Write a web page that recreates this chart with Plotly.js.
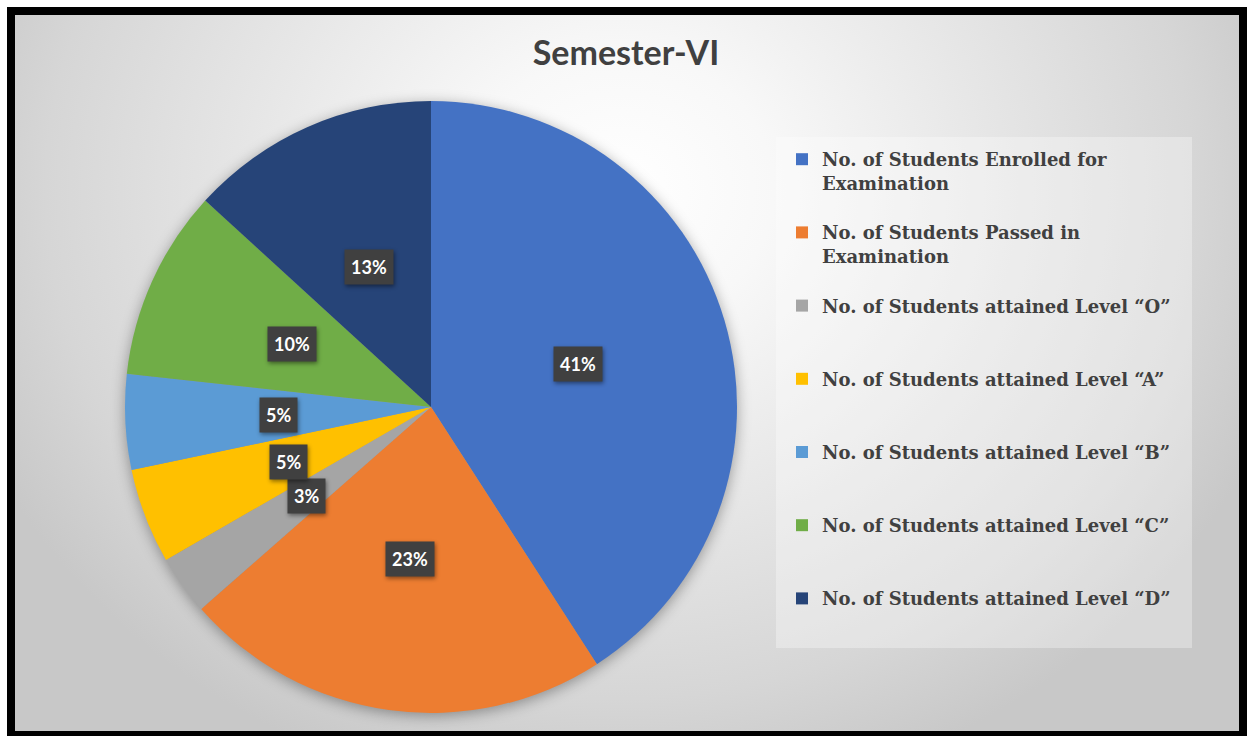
<!DOCTYPE html>
<html>
<head>
<meta charset="utf-8">
<script src="https://cdn.plot.ly/plotly-3.0.1.min.js"></script>
<style>
  html, body { margin: 0; padding: 0; background: #ffffff; width: 1249px; height: 736px; overflow: hidden; }
  #frame {
    position: absolute; left: 7px; top: 7px; width: 1240px; height: 732px;
    box-sizing: border-box; border: 8px solid #000000;
    background: radial-gradient(ellipse 700px 620px at 605px 175px,
      #ffffff 0%, #f8f8f8 22%, #e8e8e8 50%, #d6d6d6 82%, #c8c8c8 100%);
  }
  #chart { position: absolute; left: 0; top: 0; width: 1249px; height: 736px; }
  .pielayer { filter: drop-shadow(0px 3px 7px rgba(0,0,0,0.35)); }
  .annotation .bg { filter: drop-shadow(1px 2px 2px rgba(0,0,0,0.45)); }
</style>
</head>
<body>
<div id="frame"></div>
<div id="chart"></div>
<script>
// ---- data ----
const chartTitle = "Semester-VI";
const categories = [
  "No. of Students Enrolled for Examination",
  "No. of Students Passed in Examination",
  "No. of Students attained Level \u201CO\u201D",
  "No. of Students attained Level \u201CA\u201D",
  "No. of Students attained Level \u201CB\u201D",
  "No. of Students attained Level \u201CC\u201D",
  "No. of Students attained Level \u201CD\u201D"
];
const legendLabels = [
  "No. of Students Enrolled for<br>Examination",
  "No. of Students Passed in<br>Examination",
  "No. of Students attained Level \u201CO\u201D",
  "No. of Students attained Level \u201CA\u201D",
  "No. of Students attained Level \u201CB\u201D",
  "No. of Students attained Level \u201CC\u201D",
  "No. of Students attained Level \u201CD\u201D"
];
const studentCounts = [65, 36, 5, 8, 8, 16, 21];
const sliceColors = ["#4472C4", "#ED7D31", "#A5A5A5", "#FFC000", "#5B9BD5", "#70AD47", "#264478"];

// ---- layout constants ----
const W = 1249, H = 736;
const pieDomain = { x: [125 / W, 737 / W], y: [23 / H, 635 / H] };

// pad every legend entry to three lines so the entries are spaced like the reference
const paddedLabels = legendLabels.map(function (s) {
  const n = s.split("<br>").length;
  let out = s;
  for (let k = n; k < 3; k++) out += "<br>\u00a0";
  return out;
});

const trace = {
  type: "pie",
  labels: paddedLabels,
  values: studentCounts,
  customdata: categories,
  hovertemplate: "%{customdata}<br>%{value} (%{percent})<extra></extra>",
  sort: false,
  direction: "clockwise",
  rotation: 0,
  marker: { colors: sliceColors, line: { width: 0 } },
  textinfo: "none",
  domain: pieDomain,
  showlegend: true
};

// data labels: percentage boxes placed at half radius on each slice's mid-angle
const total = studentCounts.reduce(function (a, b) { return a + b; }, 0);
const cxPx = (pieDomain.x[0] + pieDomain.x[1]) / 2 * W;
const cyPx = (1 - (pieDomain.y[0] + pieDomain.y[1]) / 2) * H;
const R = Math.min((pieDomain.x[1] - pieDomain.x[0]) * W, (pieDomain.y[1] - pieDomain.y[0]) * H) / 2;
let cum = 0;
const annotations = studentCounts.map(function (v) {
  const mid = (cum + v / 2) / total;
  cum += v;
  const th = mid * 2 * Math.PI;
  const px = cxPx + 0.5 * R * Math.sin(th);
  const py = cyPx - 0.5 * R * Math.cos(th);
  return {
    xref: "paper", yref: "paper",
    x: px / W, y: 1 - py / H,
    xanchor: "center", yanchor: "middle",
    text: Math.round(v / total * 100) + "%",
    showarrow: false,
    font: { family: "Lato, 'Open Sans', sans-serif", size: 18, color: "#ffffff", weight: "bold" },
    bgcolor: "#404040",
    borderpad: 6
  };
});

const layout = {
  width: W, height: H,
  margin: { l: 0, r: 0, t: 0, b: 0 },
  paper_bgcolor: "rgba(0,0,0,0)",
  plot_bgcolor: "rgba(0,0,0,0)",
  title: {
    text: chartTitle,
    font: { family: "Lato, 'Open Sans', sans-serif", size: 34, color: "#404040", weight: "bold" },
    x: 626 / W, xanchor: "center",
    y: 1 - 53 / H, yanchor: "middle", yref: "container"
  },
  showlegend: true,
  legend: {
    x: 782 / W, xanchor: "left",
    y: 1 - 141 / H, yanchor: "top",
    bgcolor: "rgba(0,0,0,0)",
    borderwidth: 0,
    valign: "top",
    traceorder: "normal",
    font: { family: "'DejaVu Serif', 'Liberation Serif', serif", size: 18, color: "#404040", weight: "bold" }
  },
  shapes: [{
    type: "rect", xref: "paper", yref: "paper", layer: "below",
    x0: 776 / W, x1: 1192 / W, y0: 1 - 648 / H, y1: 1 - 137 / H,
    fillcolor: "rgba(255,255,255,0.32)", line: { width: 0 }
  }],
  annotations: annotations
};

Plotly.newPlot("chart", [trace], layout, { displayModeBar: false, responsive: false });
</script>
</body>
</html>
